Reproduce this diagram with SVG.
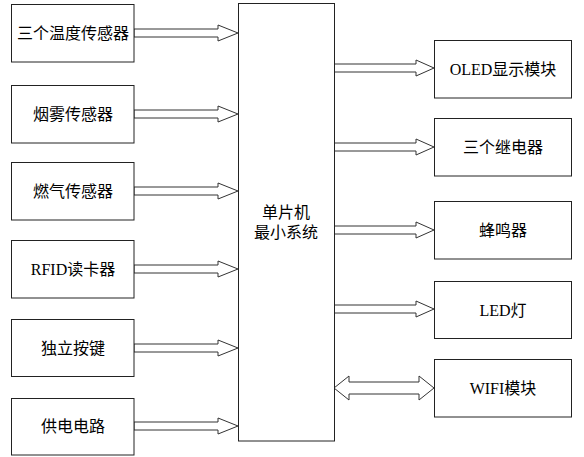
<svg xmlns="http://www.w3.org/2000/svg" width="584" height="457" viewBox="0 0 584 457">
<style>
rect{fill:#fff;stroke:#222;stroke-width:1}
.a{fill:#fff;stroke:#333;stroke-width:1}
text{font-family:"Liberation Serif","Noto Sans CJK SC",serif;font-size:16px;fill:#000;text-anchor:middle}
</style>
<rect x="0" y="0" width="584" height="457" style="stroke:none"/>
<g id="connectors">
<polygon class="a" points="134,29 218,29 218,25 238,33 218,41 218,37 134,37"/>
<polygon class="a" points="134,110 218,110 218,106 238,114 218,122 218,118 134,118"/>
<polygon class="a" points="134,187 218,187 218,183 238,191 218,199 218,195 134,195"/>
<polygon class="a" points="134,265 218,265 218,261 238,269 218,277 218,273 134,273"/>
<polygon class="a" points="134,344 218,344 218,340 238,348 218,356 218,352 134,352"/>
<polygon class="a" points="134,422 218,422 218,418 238,426 218,434 218,430 134,430"/>
<polygon class="a" points="334,64 416,64 416,60 434,68 416,76 416,72 334,72"/>
<polygon class="a" points="334,143 416,143 416,139 434,147 416,155 416,151 334,151"/>
<polygon class="a" points="334,226 416,226 416,222 434,230 416,238 416,234 334,234"/>
<polygon class="a" points="334,305 416,305 416,301 434,309 416,317 416,313 334,313"/>
<polygon class="a" points="334,388 349,376 349,382 419,382 419,376 434,388 419,400 419,394 349,394 349,400"/>
</g>
<g id="n1"><rect x="11.5" y="4.5" width="122.5" height="57.5"/><text x="73" y="39">三个温度传感器</text></g>
<g id="n2"><rect x="11.5" y="85.5" width="122.5" height="57.5"/><text x="73" y="120">烟雾传感器</text></g>
<g id="n3"><rect x="11.5" y="162.5" width="122.5" height="57.5"/><text x="73" y="197">燃气传感器</text></g>
<g id="n4"><rect x="11.5" y="240.5" width="122.5" height="57.5"/><text x="73" y="275">RFID读卡器</text></g>
<g id="n5"><rect x="11.5" y="319.5" width="122.5" height="57"/><text x="73" y="354">独立按键</text></g>
<g id="n6"><rect x="11.5" y="398.5" width="122.5" height="56.5"/><text x="73" y="432">供电电路</text></g>
<g id="mcu"><rect x="238.5" y="3.5" width="96" height="437.5"/><text x="286" y="218">单片机</text><text x="286" y="238">最小系统</text></g>
<g id="r1"><rect x="434.5" y="40.5" width="137" height="57.5"/><text x="503" y="75">OLED显示模块</text></g>
<g id="r2"><rect x="434.5" y="118.5" width="137" height="57.5"/><text x="503" y="153">三个继电器</text></g>
<g id="r3"><rect x="434.5" y="201.5" width="137" height="57.5"/><text x="503" y="236">蜂鸣器</text></g>
<g id="r4"><rect x="434.5" y="281.5" width="137" height="57"/><text x="503" y="316">LED灯</text></g>
<g id="r5"><rect x="434.5" y="359.5" width="137" height="57.5"/><text x="503" y="394">WIFI模块</text></g>
</svg>
